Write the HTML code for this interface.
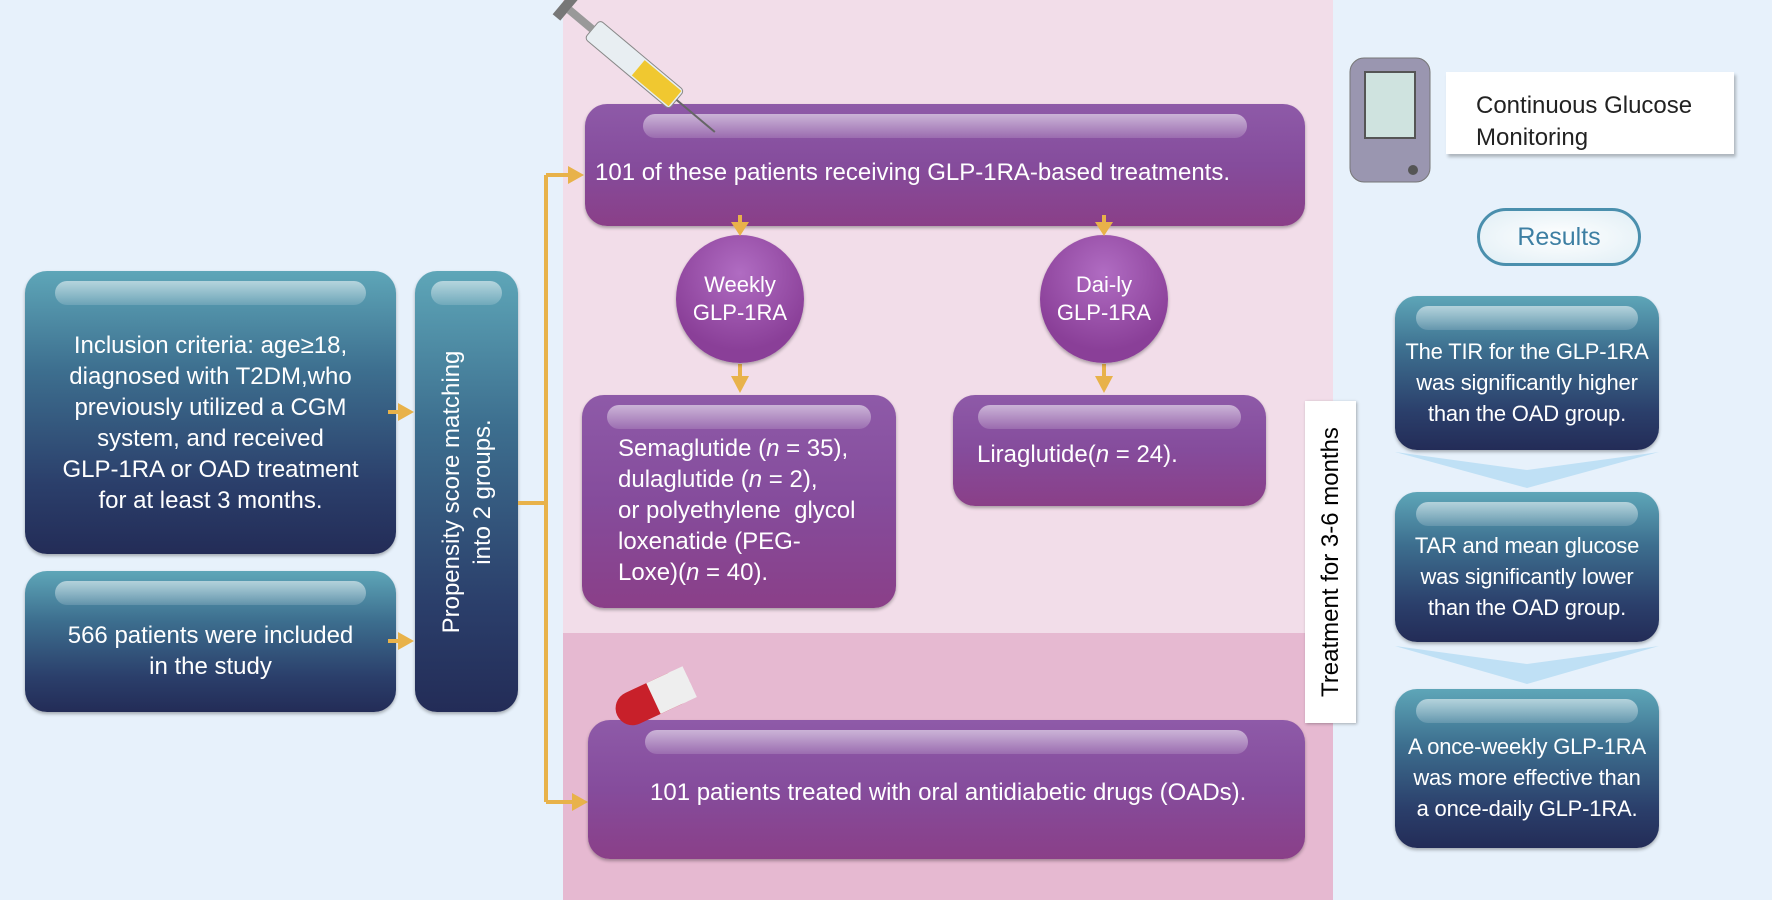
<!DOCTYPE html>
<html><head><meta charset="utf-8"><style>
body{margin:0;width:1772px;height:902px;background:#fff;position:relative;overflow:hidden;font-family:"Liberation Sans",sans-serif}
div{position:absolute;box-sizing:border-box}
p{margin:0}
.navy{background:linear-gradient(#5ea6b8 0%,#3d6f8f 35%,#2b3f6b 75%,#232c57 100%);border-radius:22px;color:#fff;font-size:24px;line-height:31px;text-align:center;box-shadow:0 2px 3px rgba(0,0,0,.3);display:flex;align-items:center;justify-content:center}
.purp{background:linear-gradient(#8e5aa8 0%,#854c9c 50%,#8a3f88 100%);border-radius:22px;color:#fff;font-size:24px;line-height:31px;box-shadow:0 2px 3px rgba(0,0,0,.3);display:flex;align-items:center}
.gl{position:absolute;left:8%;right:8%;top:10px;height:24px;border-radius:12px;background:linear-gradient(rgba(255,255,255,.55),rgba(255,255,255,.15))}
.circ{border-radius:50%;background:radial-gradient(circle at 50% 30%,#b06cc2,#8a3f98 70%);color:#fff;font-size:22px;line-height:28px;text-align:center;display:flex;align-items:center;justify-content:center;box-shadow:0 2px 3px rgba(0,0,0,.3)}
.res{font-size:22px;line-height:31px;letter-spacing:-0.2px;white-space:nowrap}
</style></head><body>
<div style="left:0;top:0;width:1772px;height:900px;background:#e7f1fb"></div>
<div style="left:563px;top:0;width:770px;height:633px;background:#f2dde9"></div>
<div style="left:563px;top:633px;width:770px;height:267px;background:#e6b9d1"></div>

<div class="navy" style="left:25px;top:271px;width:371px;height:283px;padding-top:20px"><span class="gl"></span><p>Inclusion criteria: age≥18,<br>diagnosed with T2DM,who<br>previously utilized a CGM<br>system, and received<br>GLP-1RA or OAD treatment<br>for at least 3 months.</p></div>
<div class="navy" style="left:25px;top:571px;width:371px;height:141px;padding-top:18px"><span class="gl"></span><p>566 patients were included<br>in the study</p></div>
<div class="navy" style="left:415px;top:271px;width:103px;height:441px"><span class="gl" style="left:16%;right:16%"></span><div style="left:50%;top:50%;width:360px;transform:translate(-50%,-50%) rotate(-90deg);white-space:nowrap">Propensity score matching<br>into 2 groups.</div></div>

<svg style="position:absolute;left:0;top:0" width="1772" height="902">
<g stroke="#e8b24a" stroke-width="4" fill="#e8b24a">
<line x1="518" y1="503" x2="546" y2="503"/>
<line x1="546" y1="175" x2="546" y2="802"/>
<line x1="546" y1="175" x2="570" y2="175"/><polygon points="568,166 584,175 568,184" stroke="none"/>
<line x1="546" y1="802" x2="574" y2="802"/><polygon points="572,793 588,802 572,811" stroke="none"/>
<line x1="388" y1="412" x2="400" y2="412"/><polygon points="398,403 414,412 398,421" stroke="none"/>
<line x1="388" y1="641" x2="400" y2="641"/><polygon points="398,632 414,641 398,650" stroke="none"/>
<line x1="740" y1="364" x2="740" y2="378"/><polygon points="731,376 749,376 740,393" stroke="none"/>
<line x1="1104" y1="364" x2="1104" y2="378"/><polygon points="1095,376 1113,376 1104,393" stroke="none"/>
</g>
<polygon points="1395,452 1527,470 1659,452 1527,488" fill="#bfe0f5"/>
<polygon points="1395,646 1527,664 1659,646 1527,684" fill="#bfe0f5"/>
<rect x="1350" y="58" width="80" height="124" rx="14" fill="#9a96b0" stroke="#777"/>
<rect x="1365" y="72" width="50" height="66" fill="#cfe3df" stroke="#555" stroke-width="2"/>
<circle cx="1413" cy="170" r="5" fill="#555"/>
</svg>

<div class="purp" style="left:585px;top:104px;width:720px;height:122px;padding-left:10px;padding-top:14px"><span class="gl"></span><p>101 of these patients receiving GLP-1RA-based treatments.</p></div>
<div class="circ" style="left:676px;top:235px;width:128px;height:128px">Weekly<br>GLP-1RA</div>
<div class="circ" style="left:1040px;top:235px;width:128px;height:128px">Dai-ly<br>GLP-1RA</div>
<div class="purp" style="left:582px;top:395px;width:314px;height:213px;padding-left:36px;padding-top:18px"><span class="gl"></span><p>Semaglutide (<i>n</i> = 35),<br>dulaglutide (<i>n</i> = 2),<br>or polyethylene&nbsp; glycol<br>loxenatide (PEG-<br>Loxe)(<i>n</i> = 40).</p></div>
<div class="purp" style="left:953px;top:395px;width:313px;height:111px;padding-left:24px;padding-top:8px"><span class="gl"></span><p>Liraglutide(<i>n</i> = 24).</p></div>
<div class="purp" style="left:588px;top:720px;width:717px;height:139px;padding-left:62px;padding-top:6px"><span class="gl"></span><p>101 patients treated with oral antidiabetic drugs (OADs).</p></div>
<svg style="position:absolute;left:0;top:0" width="1772" height="902">
<g fill="#e8b24a" stroke="#e8b24a" stroke-width="4">
<line x1="740" y1="215" x2="740" y2="224"/><polygon points="731,222 749,222 740,236" stroke="none"/>
<line x1="1104" y1="215" x2="1104" y2="224"/><polygon points="1095,222 1113,222 1104,236" stroke="none"/>
</g>
<g transform="translate(610,700) rotate(-25)">
<rect x="0" y="0" width="80" height="34" rx="17" fill="#c8202a"/><rect x="40" y="0" width="40" height="34" fill="#eee"/><rect x="55" y="0" width="25" height="34" rx="12" fill="#eee"/>
</g>
<g transform="translate(600,20) rotate(40)">
<rect x="0" y="0" width="110" height="24" rx="4" fill="#e8eef2" stroke="#888"/>
<rect x="60" y="2" width="48" height="20" fill="#f0c830"/>
<rect x="-30" y="8" width="30" height="8" fill="#999"/>
<rect x="-40" y="-2" width="10" height="28" fill="#777"/>
<line x1="110" y1="12" x2="160" y2="12" stroke="#666" stroke-width="2"/>
</g>
</svg>

<div style="left:1305px;top:401px;width:51px;height:322px;background:#fff;box-shadow:1px 1px 3px rgba(0,0,0,.3)"><div style="left:50%;top:50%;width:320px;transform:translate(-50%,-50%) rotate(-90deg);text-align:center;font-size:24px;white-space:nowrap">Treatment for 3-6 months</div></div>

<div style="left:1446px;top:72px;width:288px;height:82px;background:#fff;box-shadow:2px 3px 3px rgba(0,0,0,.25);padding:18px 0 0 30px;font-size:24px;line-height:32px;color:#222">Continuous Glucose<br>Monitoring</div>
<div style="left:1477px;top:208px;width:164px;height:58px;border:3px solid #4a8fad;border-radius:29px;background:radial-gradient(#fff,#e0eef5);color:#3d7fa3;font-size:25px;text-align:center;line-height:52px">Results</div>

<div class="navy res" style="left:1395px;top:296px;width:264px;height:154px;padding-top:18px"><span class="gl"></span><p>The TIR for the GLP-1RA<br>was significantly higher<br>than the OAD group.</p></div>
<div class="navy res" style="left:1395px;top:492px;width:264px;height:150px;padding-top:18px"><span class="gl"></span><p>TAR and mean glucose<br>was significantly lower<br>than the OAD group.</p></div>
<div class="navy res" style="left:1395px;top:689px;width:264px;height:159px;padding-top:18px"><span class="gl"></span><p>A once-weekly GLP-1RA<br>was more effective than<br>a once-daily GLP-1RA.</p></div>
</body></html>
